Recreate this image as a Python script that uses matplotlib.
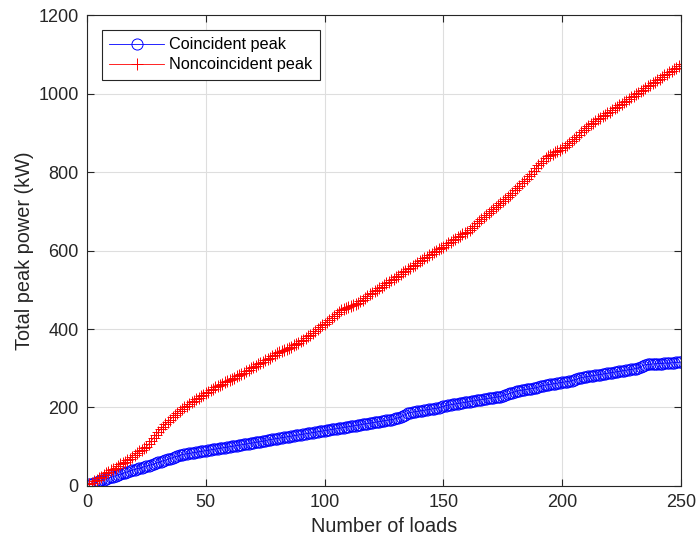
import numpy as np
import matplotlib.pyplot as plt

plt.rcParams['font.family'] = ['Liberation Sans', 'DejaVu Sans']

# Peak power (kW) for 1..250 aggregated loads
noncoincident_kw = [
    5, 8, 12, 16, 20, 24, 28, 32, 36, 40,
    43, 47, 51, 55, 58, 62, 66, 70, 75, 80,
    84, 88, 92, 96, 100, 107, 115, 122, 130, 138,
    145, 151, 157, 163, 169, 175, 181, 186, 192, 197,
    201, 205, 209, 213, 217, 221, 225, 229, 233, 237,
    240, 244, 247, 251, 254, 258, 261, 264, 267, 270,
    273, 276, 279, 282, 285, 288, 292, 296, 300, 304,
    307, 310, 313, 316, 320, 323, 327, 331, 335, 338,
    341, 343, 346, 349, 352, 355, 358, 361, 365, 369,
    373, 377, 381, 385, 389, 394, 399, 404, 409, 414,
    419, 424, 429, 434, 439, 444, 448, 451, 454, 456,
    458, 460, 463, 467, 471, 475, 479, 483, 488, 492,
    496, 500, 504, 508, 512, 516, 520, 524, 528, 532,
    536, 540, 544, 548, 552, 556, 560, 564, 568, 572,
    576, 580, 584, 588, 592, 596, 600, 603, 606, 610,
    614, 618, 622, 626, 630, 634, 638, 641, 644, 648,
    652, 657, 663, 669, 675, 680, 685, 690, 695, 700,
    705, 710, 715, 720, 726, 731, 736, 741, 747, 753,
    759, 765, 771, 777, 783, 789, 796, 803, 810, 817,
    823, 829, 835, 840, 844, 847, 850, 853, 856, 860,
    864, 868, 873, 878, 883, 889, 895, 901, 907, 913,
    918, 922, 926, 930, 934, 938, 942, 946, 950, 954,
    958, 962, 966, 970, 974, 978, 982, 986, 990, 994,
    998, 1002, 1006, 1010, 1014, 1018, 1022, 1026, 1030, 1034,
    1038, 1042, 1046, 1050, 1054, 1058, 1062, 1066, 1070, 1075,
]

coincident_kw = [
    4, 6, 8, 10, 12, 14, 16, 18, 20, 22,
    24, 26, 28, 30, 32, 34, 36, 38, 40, 42,
    44, 45, 47, 49, 51, 52, 54, 56, 58, 60,
    62, 64, 66, 68, 70, 72, 74, 76, 78, 80,
    81, 82, 83, 84, 85, 86, 87, 88, 89, 90,
    91, 92, 93, 94, 95, 96, 97, 98, 99, 100,
    101, 102, 103, 104, 105, 106, 107, 108, 109, 110,
    111, 112, 113, 114, 115, 117, 118, 119, 120, 121,
    122, 123, 124, 125, 126, 127, 128, 129, 130, 131,
    132, 133, 134, 135, 136, 137, 138, 139, 140, 141,
    142, 143, 144, 145, 146, 147, 148, 149, 150, 151,
    152, 153, 154, 155, 156, 157, 158, 159, 160, 161,
    162, 163, 164, 165, 166, 167, 168, 169, 170, 172,
    174, 176, 179, 182, 185, 187, 188, 189, 190, 191,
    192, 193, 194, 195, 196, 197, 198, 199, 201, 203,
    205, 206, 207, 208, 209, 210, 211, 212, 213, 214,
    215, 216, 217, 218, 219, 220, 221, 222, 223, 224,
    225, 226, 227, 228, 230, 232, 234, 236, 238, 240,
    242, 243, 244, 245, 246, 247, 248, 249, 250, 252,
    254, 256, 257, 258, 259, 260, 261, 262, 263, 264,
    265, 266, 267, 268, 270, 272, 274, 276, 277, 278,
    279, 280, 281, 282, 283, 284, 285, 286, 287, 288,
    289, 290, 291, 292, 293, 294, 295, 296, 297, 298,
    299, 301, 304, 307, 309, 310, 310, 311, 311, 312,
    312, 312, 313, 313, 313, 314, 314, 315, 315, 316,
]

n_loads = np.arange(1, len(coincident_kw) + 1)

ax_col = '#262626'

fig = plt.figure(figsize=(6.99, 5.46), dpi=100)
ax = fig.add_axes([0.1245, 0.1099, 0.8498, 0.8626])

ax.plot(n_loads, coincident_kw, color='blue', marker='o', fillstyle='none',
        markersize=8, markeredgewidth=0.7, linewidth=0.6, label='Coincident peak')
ax.plot(n_loads, noncoincident_kw, color='red', marker='+',
        markersize=9, markeredgewidth=0.7, linewidth=0.6, label='Noncoincident peak')

ax.set_xlim(0, 250)
ax.set_ylim(0, 1200)
ax.set_xticks([0, 50, 100, 150, 200, 250])
ax.set_yticks([0, 200, 400, 600, 800, 1000, 1200])

ax.grid(True, color='#dedede', linewidth=0.8)
ax.set_axisbelow(True)

for s in ax.spines.values():
    s.set_color(ax_col)
    s.set_linewidth(0.8)
ax.tick_params(direction='in', length=5, width=0.8, color=ax_col,
               labelcolor=ax_col, labelsize=13, top=True, right=True, pad=6)

ax.set_xlabel('Number of loads', fontsize=14.3, color=ax_col, labelpad=4)
ax.set_ylabel('Total peak power (kW)', fontsize=14.3, color=ax_col, labelpad=3)

leg = ax.legend(loc='upper left', bbox_to_anchor=(0.025, 0.968), fontsize=11.7,
                numpoints=1, handlelength=3.4, fancybox=False, framealpha=1,
                edgecolor=ax_col, borderpad=0.45, labelspacing=0.3,
                handletextpad=0.3, borderaxespad=0)
leg.get_frame().set_linewidth(0.8)

fig.savefig('out.png', dpi=100)
